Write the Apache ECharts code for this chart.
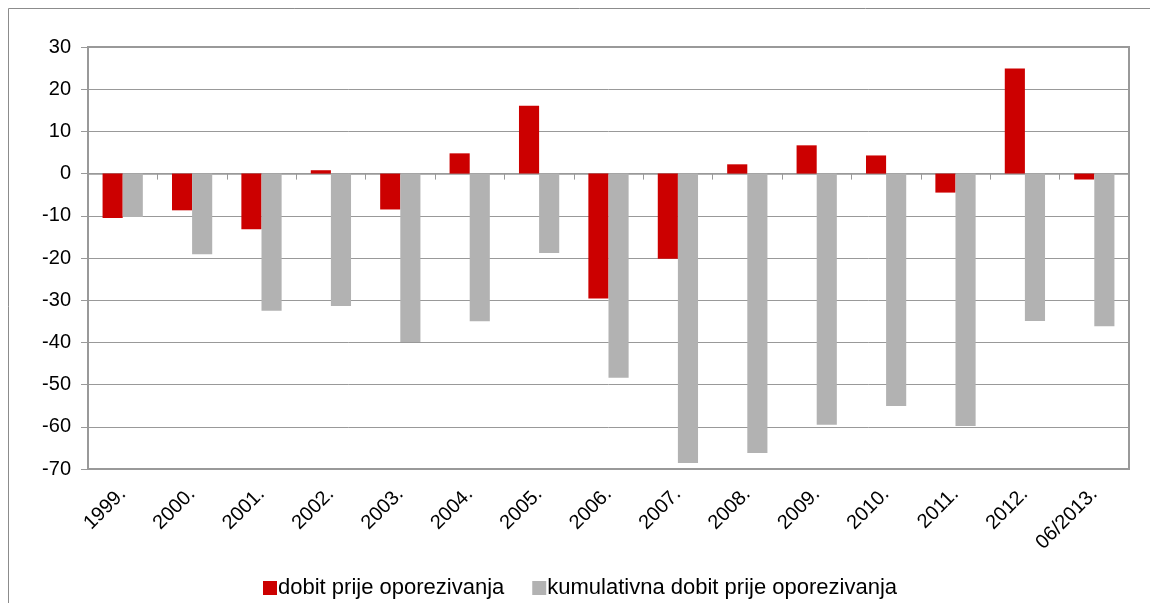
<!DOCTYPE html>
<html>
<head>
<meta charset="utf-8">
<script src="https://cdn.jsdelivr.net/npm/echarts@6/dist/echarts.min.js"></script>
<style>
  html, body { margin: 0; padding: 0; background: #fff; }
  #chart { width: 1150px; height: 603px; }
</style>
</head>
<body>
<div id="chart"></div>
<script>
// godine / kategorije
var godine = ['1999.', '2000.', '2001.', '2002.', '2003.', '2004.', '2005.', '2006.',
  '2007.', '2008.', '2009.', '2010.', '2011.', '2012.', '06/2013.'];
// dobit prije oporezivanja
var dobit = [-10.5, -8.7, -13.2, 0.8, -8.5, 4.8, 16.1, -29.6, -20.2, 2.2, 6.7, 4.3, -4.5, 24.9, -1.4];
// kumulativna dobit prije oporezivanja
var kumulativ = [-10.3, -19.1, -32.5, -31.4, -39.9, -35.0, -18.8, -48.4, -68.6, -66.2, -59.5, -55.1, -59.8, -34.9, -36.2];
var yTicks = { min: -70, max: 30, step: 10 };

var font = 'Liberation Sans, Arial, sans-serif';
var chart = echarts.init(document.getElementById('chart'));
var option = {
  animation: false,
  backgroundColor: '#fff',
  graphic: [{
    type: 'rect',
    shape: { x: 8.5, y: 8.5, width: 1300, height: 800 },
    style: { fill: 'none', stroke: '#8c8c8c', lineWidth: 1 },
    silent: true
  }],
  grid: {
    left: 88, top: 47, right: 21, bottom: 134,
    show: true, borderColor: '#999', borderWidth: 2, backgroundColor: 'transparent'
  },
  legend: {
    left: 258, top: 572,
    icon: 'rect', itemWidth: 14, itemHeight: 14, itemGap: 28,
    textStyle: { fontFamily: font, fontSize: 22, color: '#000', padding: [0, 0, 0, -4] },
    data: ['dobit prije oporezivanja', 'kumulativna dobit prije oporezivanja']
  },
  xAxis: [{
    type: 'category',
    data: godine,
    position: 'bottom',
    axisLine: { onZero: true, lineStyle: { color: '#999', width: 1.5 } },
    axisTick: { show: true, length: 6, lineStyle: { color: '#999' } },
    axisLabel: { show: false },
    splitLine: { show: false }
  }, {
    type: 'category',
    data: godine,
    position: 'bottom',
    axisLine: { show: false, onZero: false },
    axisTick: { show: false },
    axisLabel: { rotate: 45, margin: 22, fontFamily: font, fontSize: 20, color: '#000', interval: 0 },
    splitLine: { show: false }
  }],
  yAxis: {
    type: 'value',
    min: yTicks.min, max: yTicks.max, interval: yTicks.step,
    axisLine: { show: true, lineStyle: { color: '#999', width: 2 } },
    axisTick: { show: true, length: 7, lineStyle: { color: '#999' } },
    axisLabel: { fontFamily: font, fontSize: 20, color: '#000', margin: 17 },
    splitLine: { show: true, lineStyle: { color: '#999', width: 1 } }
  },
  series: [{
    name: 'dobit prije oporezivanja',
    type: 'bar',
    xAxisIndex: 0,
    data: dobit,
    barGap: '0%',
    barCategoryGap: '42%',
    itemStyle: { color: '#cc0000' }
  }, {
    name: 'kumulativna dobit prije oporezivanja',
    type: 'bar',
    xAxisIndex: 0,
    data: kumulativ,
    itemStyle: { color: '#b2b2b2' }
  }]
};
chart.setOption(option);
</script>
</body>
</html>
